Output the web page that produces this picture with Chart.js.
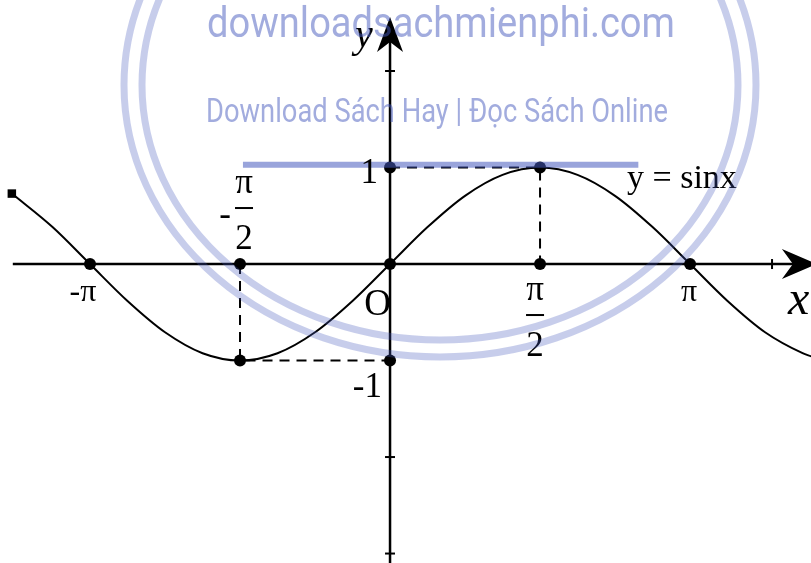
<!DOCTYPE html>
<html>
<head>
<meta charset="utf-8">
<script src="https://cdn.jsdelivr.net/npm/chart.js@4.4.0/dist/chart.umd.min.js"></script>
<style>
    html, body { margin: 0; padding: 0; background: #fff; overflow: hidden; }
    #wrap { width: 811px; height: 563px; position: relative; }
</style>
</head>
<body>
<div id="wrap"><canvas id="sine-chart"></canvas></div>
<script>
// y = sin x, sampled about every pi/8
const curveX = [-3.960, -3.534, -3.142, -2.749, -2.356, -1.963, -1.571, -1.178, -0.785, -0.393, 0,
    0.393, 0.785, 1.178, 1.571, 1.963, 2.356, 2.749, 3.142, 3.534, 3.927, 4.320, 4.410];
const curveY = [0.730, 0.383, 0, -0.383, -0.707, -0.924, -1, -0.924, -0.707, -0.383, 0,
    0.383, 0.707, 0.924, 1, 0.924, 0.707, 0.383, 0, -0.383, -0.707, -0.924, -0.957];

const keyPointX = [-3.1416, -1.5708, 0, 1.5708, 3.1416, 0, 1.5708, -1.5708, 0];
const keyPointY = [0, 0, 0, 0, 0, 1, 1, -1, -1];

const guideLeftX = [-1.5708, -1.5708, 0];
const guideLeftY = [0, -1, -1];
const guideRightX = [0, 1.5708, 1.5708];
const guideRightY = [1, 1, 0];

const highlightX = [-1.54, 2.60];
const highlightY = [1.03, 1.03];

const xAxisX = [-3.95, 4.40];
const xAxisY = [0, 0];
const yAxisX = [0, 0];
const yAxisY = [-3.10, 2.45];
const arrowTipX = 4.47;
const arrowTipY = 2.56;

const xTickMarks = [4];
const yTickMarks = [2, -2, -3];

const xTickValues = [-3.1416, 3.1416];
const xTickLabels = ['-π', 'π'];
const halfPiValues = [-1.5708, 1.5708];
const halfPiSigns = ['-', ''];
const yTickValues = [1, -1];
const yTickLabels = ['1', '-1'];
const seriesLabel = 'y = sinx';
const watermarkLines = ['downloadsachmienphi.com', 'Download Sách Hay | Đọc Sách Online'];

function toPoints(xs, ys) {
    return xs.map((x, i) => ({x: x, y: ys[i]}));
}

const SERIF = '"Liberation Serif", "Times New Roman", serif';

// axis arrows, tick marks and all the labels
const annotations = {
    id: 'annotations',
    afterDatasetsDraw(chart) {
        const ctx = chart.ctx;
        const xs = chart.scales.x, ys = chart.scales.y;
        const x0 = xs.getPixelForValue(0), y0 = ys.getPixelForValue(0);
        ctx.save();
        ctx.fillStyle = '#000';
        ctx.strokeStyle = '#000';

        // arrow heads
        const tipY = ys.getPixelForValue(arrowTipY);
        ctx.beginPath();
        ctx.moveTo(x0, tipY);
        ctx.lineTo(x0 + 13, tipY + 35);
        ctx.lineTo(x0, tipY + 25);
        ctx.lineTo(x0 - 13, tipY + 35);
        ctx.closePath();
        ctx.fill();
        const tipX = xs.getPixelForValue(arrowTipX);
        ctx.beginPath();
        ctx.moveTo(tipX, y0);
        ctx.lineTo(tipX - 35, y0 - 15);
        ctx.lineTo(tipX - 24, y0);
        ctx.lineTo(tipX - 35, y0 + 15);
        ctx.closePath();
        ctx.fill();

        // small ticks
        ctx.lineWidth = 2;
        yTickMarks.forEach(v => {
            const py = ys.getPixelForValue(v);
            ctx.beginPath();
            ctx.moveTo(x0 - 5, py);
            ctx.lineTo(x0 + 5, py);
            ctx.stroke();
        });
        xTickMarks.forEach(v => {
            const px = xs.getPixelForValue(v);
            ctx.beginPath();
            ctx.moveTo(px, y0 - 5);
            ctx.lineTo(px, y0 + 5);
            ctx.stroke();
        });

        ctx.textBaseline = 'alphabetic';
        ctx.textAlign = 'center';
        ctx.font = '32px ' + SERIF;
        xTickLabels.forEach((t, i) => {
            const px = xs.getPixelForValue(xTickValues[i]);
            ctx.fillText(t, px + (i === 0 ? -7 : -1), y0 + 37);
        });

        // pi/2 fractions
        ctx.font = '35px ' + SERIF;
        halfPiValues.forEach((v, i) => {
            const cx = xs.getPixelForValue(v) + (v < 0 ? 4 : -5);
            const top = v < 0 ? y0 - 71 : y0 + 36;
            ctx.textAlign = 'center';
            ctx.fillText('π', cx, top);
            ctx.fillRect(cx - 9, top + 14, 18, 2);
            ctx.fillText('2', cx, top + 56);
            if (halfPiSigns[i]) {
                ctx.fillText(halfPiSigns[i], cx - 19, top + 32);
            }
        });

        ctx.textAlign = 'right';
        yTickLabels.forEach((t, i) => {
            const py = ys.getPixelForValue(yTickValues[i]);
            ctx.fillText(t, x0 - (i === 0 ? 12 : 8), py + (i === 0 ? 15 : 36));
        });
        ctx.font = '37px ' + SERIF;
        ctx.fillText('O', x0 + 1, y0 + 51);

        ctx.textAlign = 'left';
        ctx.font = '34px ' + SERIF;
        ctx.fillText(seriesLabel, 627, ys.getPixelForValue(1) + 20);
        ctx.font = 'italic 40px ' + SERIF;
        ctx.fillText('y', x0 - 35, 47);
        ctx.font = 'italic 48px ' + SERIF;
        ctx.fillText('x', 788, y0 + 50);
        ctx.restore();
    },
    afterDraw(chart) {
        // site watermark on top
        const ctx = chart.ctx;
        ctx.save();
        ctx.strokeStyle = 'rgba(70, 90, 190, 0.3)';
        ctx.lineWidth = 7;
        ctx.beginPath();
        ctx.ellipse(440, 85, 316, 272, 0, 0, Math.PI * 2);
        ctx.stroke();
        ctx.beginPath();
        ctx.ellipse(440, 85, 298, 255, 0, 0, Math.PI * 2);
        ctx.stroke();
        ctx.fillStyle = 'rgba(70, 90, 190, 0.5)';
        ctx.textAlign = 'center';
        ctx.font = '43px Roboto, "Open Sans", sans-serif';
        ctx.fillText(watermarkLines[0], 441, 37, 468);
        ctx.font = '33px Roboto, "Open Sans", sans-serif';
        ctx.fillText(watermarkLines[1], 437, 122, 462);
        ctx.restore();
    }
};

function renderChart() {
    new Chart(document.getElementById('sine-chart'), {
        type: 'line',
        data: {
            datasets: [{
                label: 'highlight',
                data: toPoints(highlightX, highlightY),
                borderColor: 'rgba(70, 90, 190, 0.55)',
                borderWidth: 6,
                borderCapStyle: 'butt',
                pointRadius: 0,
                order: 0
            }, {
                label: 'points',
                data: toPoints(keyPointX, keyPointY),
                showLine: false,
                pointRadius: 6,
                pointBackgroundColor: '#000',
                pointBorderWidth: 0,
                order: 1
            }, {
                label: seriesLabel,
                data: toPoints(curveX, curveY),
                borderColor: '#000',
                borderWidth: 2,
                cubicInterpolationMode: 'monotone',
                pointRadius: ctx => ctx.dataIndex === 0 ? 6 : 0,
                pointStyle: 'rect',
                pointBackgroundColor: '#000',
                pointBorderWidth: 0,
                order: 2
            }, {
                label: 'guide left',
                data: toPoints(guideLeftX, guideLeftY),
                borderColor: '#000',
                borderWidth: 2,
                borderDash: [10, 7],
                pointRadius: 0,
                order: 3
            }, {
                label: 'guide right',
                data: toPoints(guideRightX, guideRightY),
                borderColor: '#000',
                borderWidth: 2,
                borderDash: [10, 7],
                pointRadius: 0,
                order: 3
            }, {
                label: 'x axis',
                data: toPoints(xAxisX, xAxisY),
                borderColor: '#000',
                borderWidth: 2.5,
                pointRadius: 0,
                order: 4
            }, {
                label: 'y axis',
                data: toPoints(yAxisX, yAxisY),
                borderColor: '#000',
                borderWidth: 2.5,
                pointRadius: 0,
                order: 4
            }]
        },
        options: {
            responsive: true,
            maintainAspectRatio: false,
            animation: false,
            layout: {padding: 0, autoPadding: false},
            scales: {
                x: {type: 'linear', display: false, min: -4.084, max: 4.408},
                y: {type: 'linear', display: false, min: -3.098, max: 2.736}
            },
            plugins: {
                legend: {display: false},
                tooltip: {enabled: false}
            }
        },
        plugins: [annotations]
    });
}

window.onload = renderChart;
</script>
</body>
</html>
